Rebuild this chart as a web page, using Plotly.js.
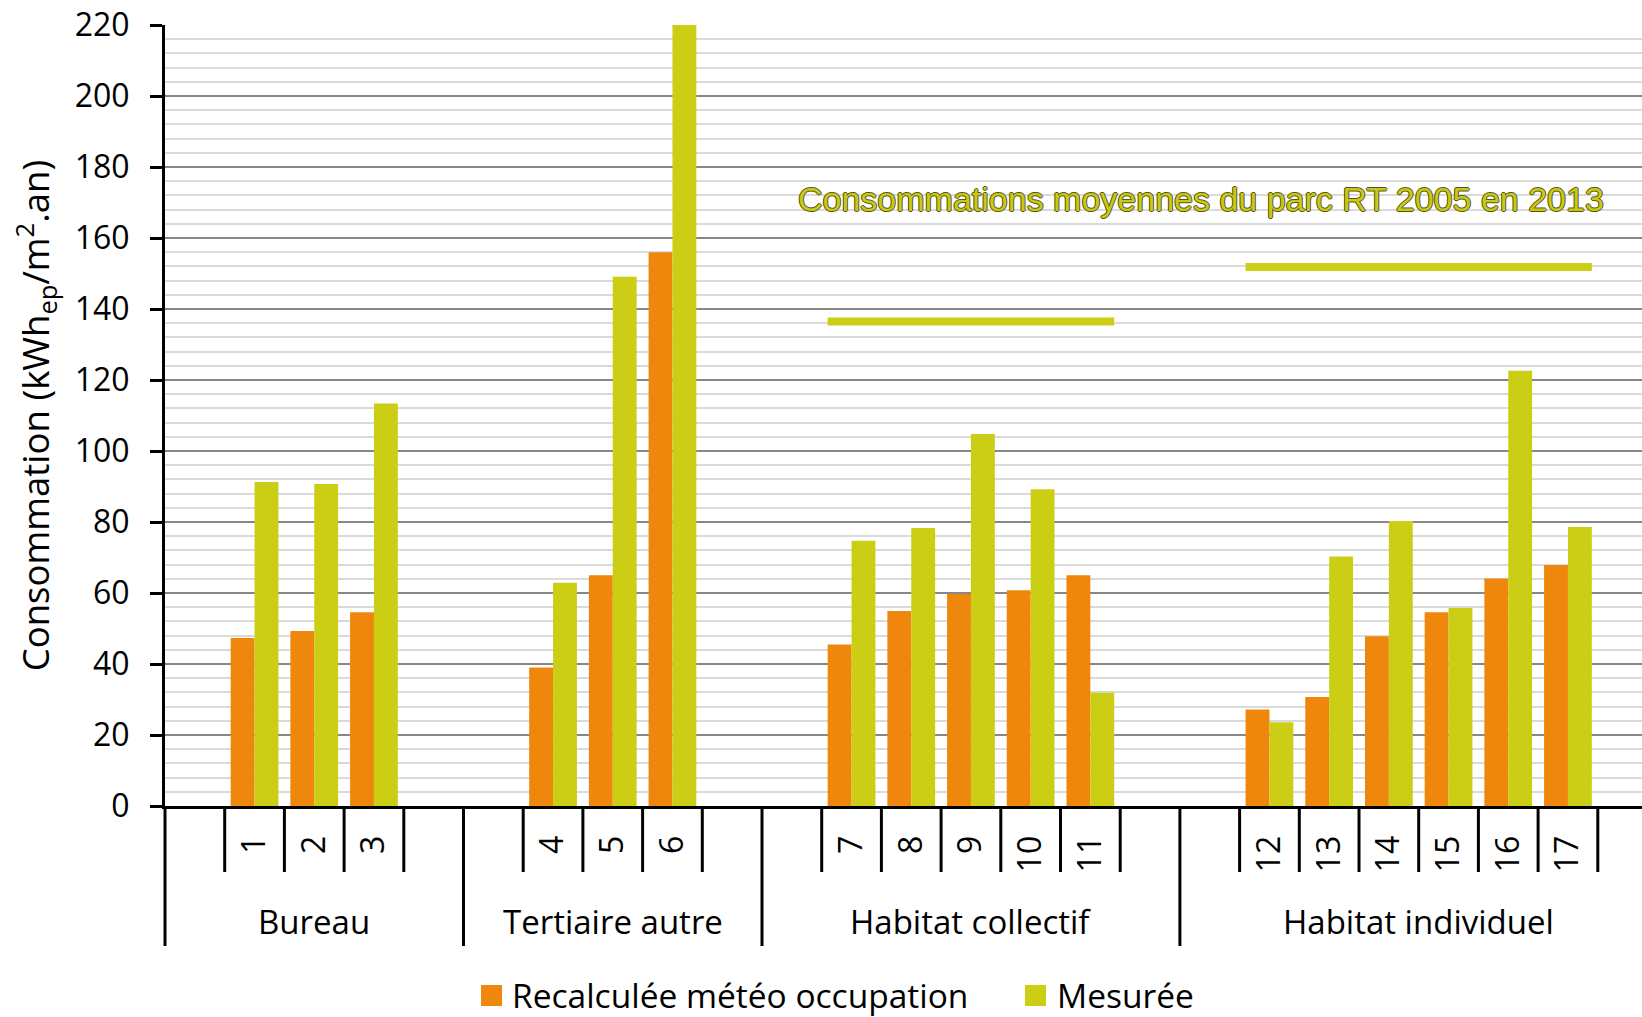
<!DOCTYPE html>
<html>
<head>
<meta charset="utf-8">
<script src="https://cdn.plot.ly/plotly-3.0.1.min.js"></script>
<style>
  html, body { margin: 0; padding: 0; background: #ffffff; overflow: hidden; }
  #chart { width: 1642px; height: 1017px; }
</style>
</head>
<body>
<div id="chart"></div>
<script>
// ---------------- DATA ----------------
const groups = ['Bureau', 'Tertiaire autre', 'Habitat collectif', 'Habitat individuel'];
const buildingIds = [[1, 2, 3], [4, 5, 6], [7, 8, 9, 10, 11], [12, 13, 14, 15, 16, 17]];
const recalculee = [47.3, 49.3, 54.6, 39.0, 65.0, 156.0, 45.5, 54.9, 59.7, 60.8, 65.0, 27.2, 30.7, 47.8, 54.6, 64.1, 67.9];
const mesuree = [91.3, 90.7, 113.4, 62.9, 149.1, 220.0, 74.7, 78.3, 104.8, 89.2, 31.9, 23.6, 70.3, 80.3, 55.8, 122.6, 78.6];
const parcGroups = ['Habitat collectif', 'Habitat individuel'];
const parcValues = [136.5, 151.8];
const seriesNames = ['Recalculée météo occupation', 'Mesurée'];
const parcLabel = 'Consommations moyennes du parc RT 2005 en 2013';
const yTitle = 'Consommation (kWh<sub>ep</sub>/m<sup>2</sup>.an)';

// ---------------- STYLE ----------------
const orange = '#EF870D';
const green = '#CBCE14';
const fontFam = '"Open Sans", "Noto Sans", sans-serif';
const fs = 32;
const bargap = 0.2;
const halfBar = (1 - bargap) / 2;

// ---------------- SLOT LAYOUT (one empty slot before/after each group) ----------------
const slots = [], tickText = [], groupCenters = [], groupBounds = [], groupFirstLast = {};
let pos = 0;
groups.forEach((g, gi) => {
  groupBounds.push(pos - 0.5);
  const start = pos;
  pos += 1;
  const first = pos;
  buildingIds[gi].forEach(id => { slots.push(pos); tickText.push(String(id)); pos += 1; });
  groupFirstLast[g] = [first, pos - 1];
  pos += 1;
  groupCenters.push((start + pos - 1) / 2);
});
groupBounds.push(pos - 0.5);

const plotLeft = 165, plotRight = 1642, slotPx = 59.7;
const xMax = -0.5 + (plotRight - plotLeft) / slotPx;

// short ticks around each labelled slot
const shortTickSet = new Set();
slots.forEach(s => { shortTickSet.add(s - 0.5); shortTickSet.add(s + 0.5); });

const plotTop = 25, plotBottom = 806;
const plotH = plotBottom - plotTop;
const py = Y => (plotBottom - Y) / plotH;               // pixel -> paper y
const px = X => (X - plotLeft) / (plotRight - plotLeft); // pixel -> paper x

const shapes = [];
shortTickSet.forEach(x => {
  shapes.push({type: 'line', xref: 'x', yref: 'paper', x0: x, x1: x, y0: 0, y1: py(872),
    line: {color: '#000', width: 3}});
});
groupBounds.forEach(x => {
  if (x <= -0.5) {
    shapes.push({type: 'line', xref: 'paper', yref: 'paper', x0: 0, x1: 0, y0: 0, y1: py(946),
      line: {color: '#000', width: 3}});
  } else if (x < xMax) {
    shapes.push({type: 'line', xref: 'x', yref: 'paper', x0: x, x1: x, y0: 0, y1: py(946),
      line: {color: '#000', width: 3}});
  }
});
// custom legend swatches
shapes.push({type: 'rect', xref: 'paper', yref: 'paper', x0: px(481), x1: px(502), y0: py(985), y1: py(1006),
  fillcolor: orange, line: {width: 0}});
shapes.push({type: 'rect', xref: 'paper', yref: 'paper', x0: px(1025), x1: px(1046), y0: py(985), y1: py(1006),
  fillcolor: green, line: {width: 0}});

const annotations = [];
groups.forEach((g, gi) => {
  annotations.push({xref: 'x', yref: 'paper', x: groupCenters[gi], y: py(921), text: g, showarrow: false,
    xanchor: 'center', yanchor: 'middle', font: {family: fontFam, size: 33, color: '#000'}});
});
annotations.push({xref: 'paper', yref: 'paper', x: px(510), y: py(995), text: seriesNames[0], showarrow: false,
  xanchor: 'left', yanchor: 'middle', font: {family: fontFam, size: 33.5, color: '#000'}});
annotations.push({xref: 'paper', yref: 'paper', x: px(1055), y: py(995), text: seriesNames[1], showarrow: false,
  xanchor: 'left', yanchor: 'middle', font: {family: fontFam, size: 33.5, color: '#000'}});
annotations.push({xref: 'paper', yref: 'paper', x: px(1606), y: py(199), text: parcLabel, showarrow: false,
  xanchor: 'right', yanchor: 'middle',
  font: {family: '"Liberation Sans", Arial, sans-serif', size: 34, color: '#C9C914',
    shadow: '1px 0 0 #55551a, -1px 0 0 #55551a, 0 1px 0 #55551a, 0 -1px 0 #55551a'}});

// ---------------- TRACES ----------------
const traces = [
  {type: 'bar', name: seriesNames[0], x: slots, y: recalculee, marker: {color: orange}, showlegend: false,
   hovertemplate: '%{y}<extra></extra>'},
  {type: 'bar', name: seriesNames[1], x: slots, y: mesuree, marker: {color: green}, showlegend: false,
   hovertemplate: '%{y}<extra></extra>'}
];
parcGroups.forEach((g, i) => {
  const fl = groupFirstLast[g];
  traces.push({type: 'scatter', mode: 'lines', name: parcLabel + ' – ' + g,
    x: [fl[0] - halfBar, fl[1] + halfBar], y: [parcValues[i], parcValues[i]],
    line: {color: green, width: 8}, showlegend: false, hoverinfo: 'skip'});
});

const layout = {
  width: 1642, height: 1017,
  margin: {l: plotLeft, r: 0, t: plotTop, b: 1017 - plotBottom, pad: 0},
  paper_bgcolor: '#fff', plot_bgcolor: '#fff',
  barmode: 'group', bargap: bargap, bargroupgap: 0,
  showlegend: false,
  font: {family: fontFam, size: fs, color: '#000'},
  xaxis: {
    range: [-0.5, xMax], tickmode: 'array', tickvals: slots, ticktext: tickText, tickangle: -90,
    ticks: '', showgrid: false, zeroline: false, showline: true, linecolor: '#000', linewidth: 3,
    tickfont: {family: fontFam, size: fs, color: '#000'}, ticklabelstandoff: 14, fixedrange: true
  },
  yaxis: {
    range: [0, 220], dtick: 20, tick0: 0, ticks: 'outside', ticklen: 12, tickwidth: 3, tickcolor: '#000',
    showline: true, linecolor: '#000', linewidth: 3, zeroline: false,
    showgrid: true, gridcolor: '#878787', gridwidth: 2,
    minor: {dtick: 4, showgrid: true, gridcolor: '#dadada', gridwidth: 2, ticks: ''},
    tickfont: {family: fontFam, size: fs, color: '#000'}, ticklabelstandoff: 14,
    title: {text: yTitle, font: {family: fontFam, size: 36.5, color: '#000'}, standoff: 14},
    fixedrange: true
  },
  shapes: shapes,
  annotations: annotations
};

Plotly.newPlot('chart', traces, layout, {displayModeBar: false, staticPlot: true});
</script>
</body>
</html>
